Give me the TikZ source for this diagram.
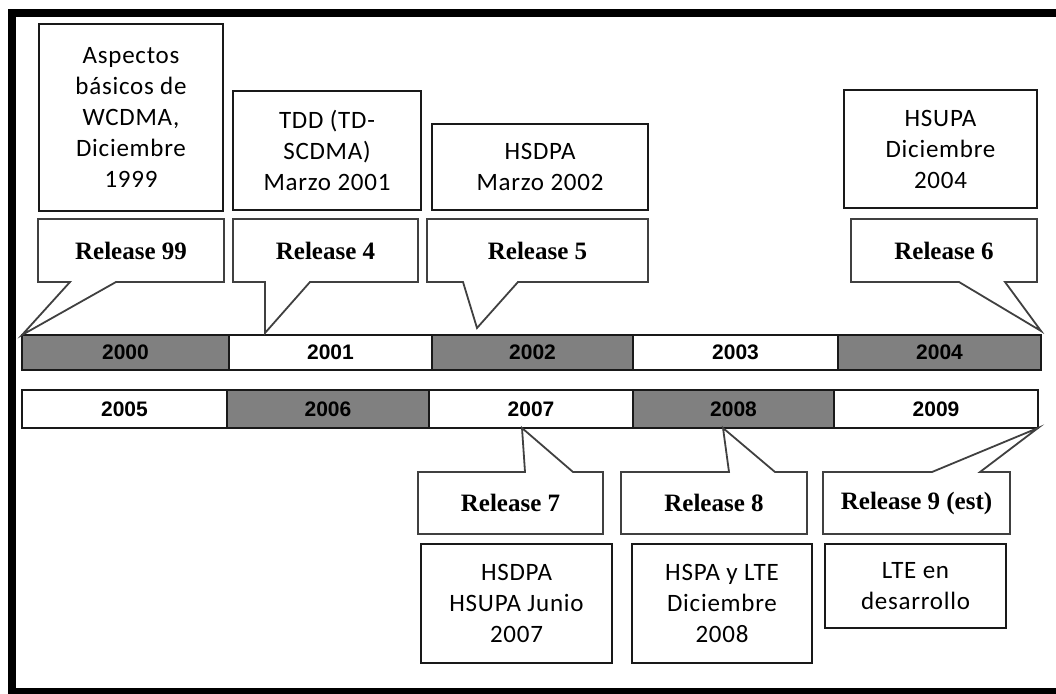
\documentclass[tikz,border=0pt]{standalone}
\usepackage{fontspec}
\usetikzlibrary{positioning}
\newfontfamily\descfont{Carlito}[LetterSpace=3]
\newfontfamily\relfont{Liberation Serif}
\newfontfamily\yearfont{Liberation Sans}
\definecolor{cellgray}{RGB}{128,128,128}
\tikzset{
  desc/.style={draw=black!90, line width=1.2pt, align=center, inner sep=0pt, outer sep=0pt,
    font=\descfont\fontsize{25}{31}\selectfont},
  rel/.style={minimum height=63pt, inner sep=0pt, outer sep=0pt,
    font=\relfont\bfseries\fontsize{25}{30}\selectfont},
  bubble/.style={draw=black!75, line width=1.8pt, line join=miter},
  yearcell/.style={draw=black!90, line width=1.3pt, minimum height=35pt, inner sep=0pt, outer sep=0pt,
    font=\yearfont\bfseries\fontsize{21}{25}\selectfont},
}

\begin{document}
\begin{tikzpicture}[x=1pt,y=1pt]
\useasboundingbox (0,0) rectangle (1056,693);
\draw[line width=8pt] (12,1) rectangle (1062,680);

% years
\node[yearcell, fill=cellgray, minimum width=207pt, anchor=north west] (y2000) at (22,358) {2000};
\node[yearcell, minimum width=203pt, right=0pt of y2000] (y2001) {2001};
\node[yearcell, fill=cellgray, minimum width=201pt, right=0pt of y2001] (y2002) {2002};
\node[yearcell, minimum width=205pt, right=0pt of y2002] (y2003) {2003};
\node[yearcell, fill=cellgray, minimum width=203pt, right=0pt of y2003] (y2004) {2004};
\node[yearcell, minimum height=38pt, minimum width=205pt, anchor=north west] (y2005) at (22,303) {2005};
\node[yearcell, minimum height=38pt, fill=cellgray, minimum width=202pt, right=0pt of y2005] (y2006) {2006};
\node[yearcell, minimum height=38pt, minimum width=204pt, right=0pt of y2006] (y2007) {2007};
\node[yearcell, minimum height=38pt, fill=cellgray, minimum width=201pt, right=0pt of y2007] (y2008) {2008};
\node[yearcell, minimum height=38pt, minimum width=204pt, right=0pt of y2008] (y2009) {2009};

% releases
\node[rel, minimum width=186pt] (r99) at (131,442.5) {Release 99};
\node[rel, minimum width=185pt] (r4) at (325.5,442.5) {Release 4};
\node[rel, minimum width=221pt] (r5) at (537.5,442.5) {Release 5};
\node[rel, minimum width=186pt] (r6) at (944,442.5) {Release 6};
\node[rel, minimum height=62pt, minimum width=185pt] (r7) at (510.5,190) {Release 7};
\node[rel, minimum height=62pt, minimum width=186pt] (r8) at (714,190) {Release 8};
\node[rel, minimum height=62pt, minimum width=187pt] (r9) at (916.5,190) {Release 9 (est)};

\coordinate (tip4) at ([xshift=36pt,yshift=2pt]y2001.north west);
\coordinate (tip5) at ([xshift=45pt,yshift=7pt]y2002.north west);
\coordinate (tip6) at ([yshift=4pt]y2004.north east);
\coordinate (tip7) at ([xshift=93pt]y2007.south west);
\coordinate (tip8) at ([xshift=90pt]y2008.south west);

\draw[bubble] ([xshift=32pt]r99.south west) -- (y2000.north west) -- ([xshift=78pt]r99.south west)
  -- (r99.south east) -- (r99.north east) -- (r99.north west) -- (r99.south west) -- cycle;
\draw[bubble] ([xshift=32pt]r4.south west) -- (tip4) -- ([xshift=77pt]r4.south west)
  -- (r4.south east) -- (r4.north east) -- (r4.north west) -- (r4.south west) -- cycle;
\draw[bubble] ([xshift=36pt]r5.south west) -- (tip5) -- ([xshift=91pt]r5.south west)
  -- (r5.south east) -- (r5.north east) -- (r5.north west) -- (r5.south west) -- cycle;
\draw[bubble] ([xshift=108pt]r6.south west) -- (tip6) -- ([xshift=154pt]r6.south west)
  -- (r6.south east) -- (r6.north east) -- (r6.north west) -- (r6.south west) -- cycle;
\draw[bubble] ([xshift=107pt]r7.north west) -- (tip7) -- ([xshift=155pt]r7.north west)
  -- (r7.north east) -- (r7.south east) -- (r7.south west) -- (r7.north west) -- cycle;
\draw[bubble] ([xshift=108pt]r8.north west) -- (tip8) -- ([xshift=154pt]r8.north west)
  -- (r8.north east) -- (r8.south east) -- (r8.south west) -- (r8.north west) -- cycle;
\draw[bubble] ([xshift=109pt]r9.north west) -- (y2009.south east) -- ([xshift=157pt]r9.north west)
  -- (r9.north east) -- (r9.south east) -- (r9.south west) -- (r9.north west) -- cycle;

% descriptions
\node[desc, minimum width=184pt, minimum height=187pt, above=8pt of r99] (a99) {Aspectos\\básicos de\\WCDMA,\\Diciembre\\1999};
\node[desc, minimum width=188pt, minimum height=119pt, above=9pt of r4, xshift=1.5pt] (a4) {TDD (TD-\\SCDMA)\\Marzo 2001};
\node[desc, minimum width=216pt, minimum height=86pt, above=9pt of r5, xshift=2.5pt] (a5) {HSDPA\\Marzo 2002};
\node[desc, minimum width=193pt, minimum height=118pt, above=11pt of r6, xshift=-3.5pt] (a6) {HSUPA\\Diciembre\\2004};
\node[desc, minimum width=191pt, minimum height=119pt, below=10pt of r7, xshift=6pt] (b7) {HSDPA\\HSUPA Junio\\2007};
\node[desc, minimum width=180pt, minimum height=119pt, below=10pt of r8, xshift=8pt] (b8) {HSPA y LTE\\Diciembre\\2008};
\node[desc, minimum width=181pt, minimum height=84pt, below=10pt of r9, xshift=-1pt] (b9) {LTE en\\desarrollo};
\end{tikzpicture}
\end{document}
